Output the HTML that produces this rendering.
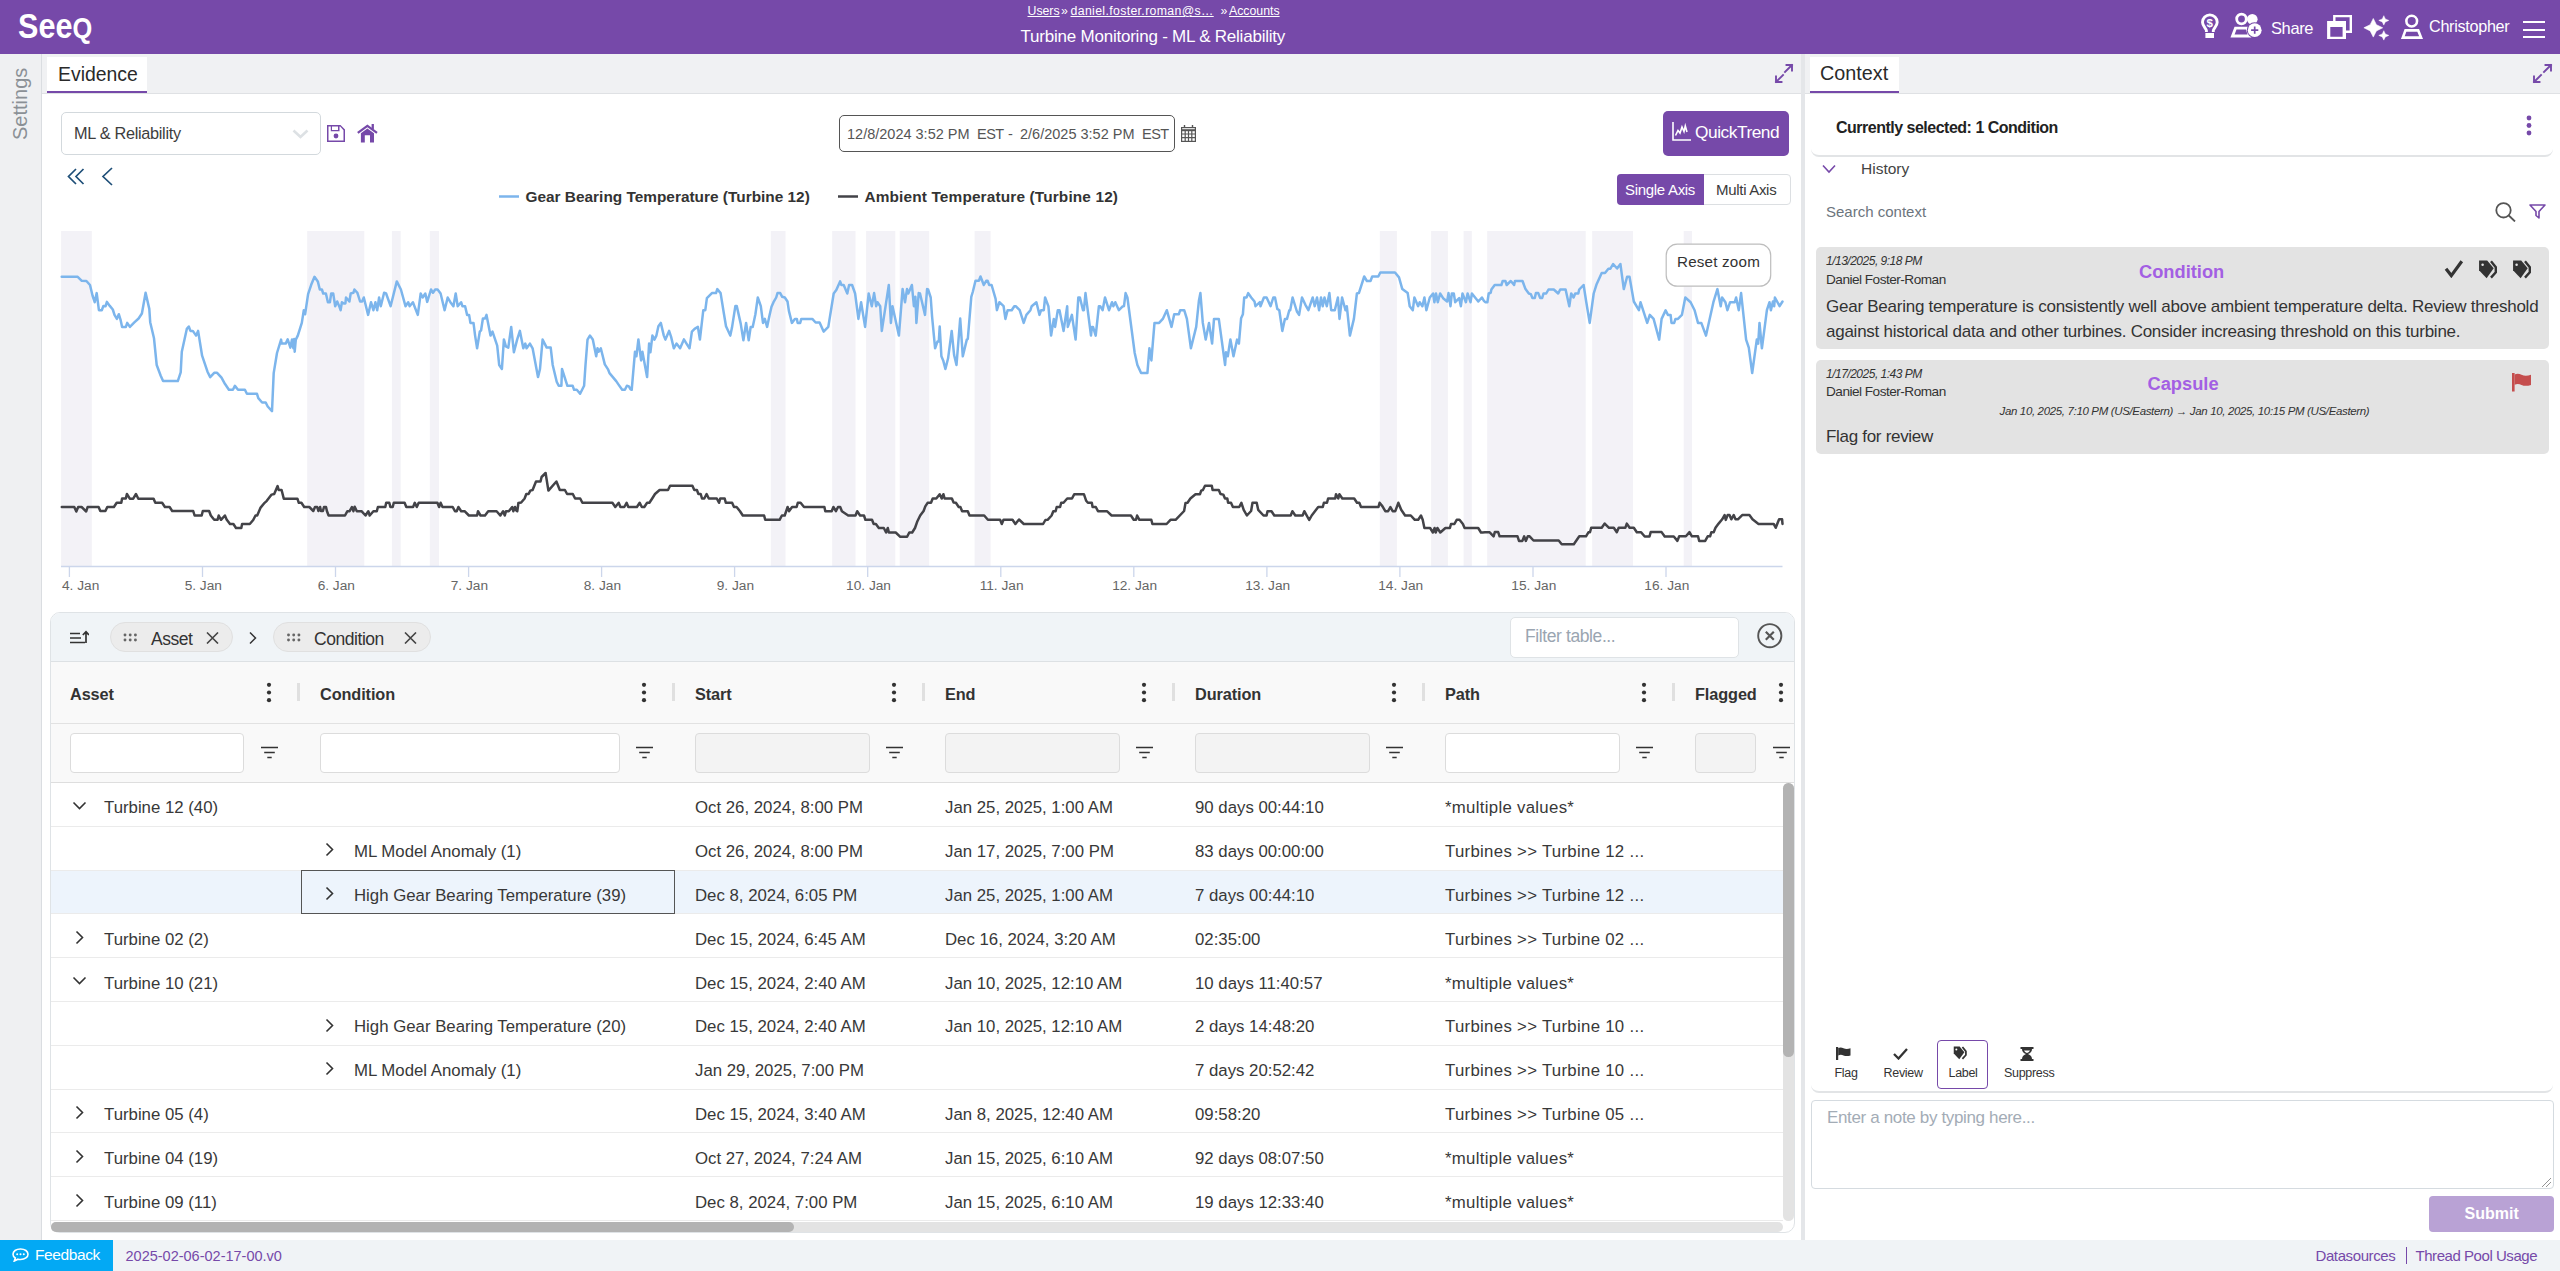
<!DOCTYPE html>
<html><head><meta charset="utf-8"><title>Seeq</title>
<style>
*{box-sizing:border-box;margin:0;padding:0}
html,body{width:2560px;height:1271px;overflow:hidden;background:#fff;font-family:"Liberation Sans",Arial,sans-serif;color:#333}
.a{position:absolute}
.t{position:absolute;white-space:nowrap;line-height:1}
#hdr{left:0;top:0;width:2560px;height:54px;background:#7649a9}
#side{left:0;top:54px;width:42px;height:1186px;background:#eff0f2;border-right:1px solid #dadde1}
#evtab{left:42px;top:54px;width:1759px;height:40px;background:#f0f1f3;border-bottom:1px solid #dfe1e4}
#ctxtab{left:1805px;top:54px;width:755px;height:40px;background:#f0f1f3;border-bottom:1px solid #dfe1e4}
#divider{left:1801px;top:54px;width:4px;height:1186px;background:#e4e6e9}
#footer{left:0;top:1240px;width:2560px;height:31px;background:#f0f3f6}
.tab{background:#fff;border-bottom:2.5px solid #7649a9}
.pu{color:#7649a9}
</style></head><body>
<div id="hdr" class="a"></div>
<div id="side" class="a"></div>
<div id="evtab" class="a"></div>
<div id="ctxtab" class="a"></div>
<div id="divider" class="a"></div>
<div id="footer" class="a"></div>

<!-- HEADER -->
<div class="t" style="left:18px;top:8.5px;font-size:35.5px;font-weight:bold;color:#fff;letter-spacing:0.1px;transform:scaleX(0.86);transform-origin:0 0">See<span style="font-size:29.5px;letter-spacing:0">Q</span></div>
<div class="t" style="left:1027.5px;top:5px;font-size:12.3px;color:#fff;text-decoration:underline">Users</div>
<div class="t" style="left:1061px;top:5px;font-size:12.3px;color:#fff">»</div>
<div class="t" style="left:1070.5px;top:5px;font-size:12.3px;color:#fff;text-decoration:underline;letter-spacing:0.35px">daniel.foster.roman@s…</div>
<div class="t" style="left:1220.5px;top:5px;font-size:12.3px;color:#fff">»</div>
<div class="t" style="left:1229px;top:5px;font-size:12.3px;color:#fff;text-decoration:underline">Accounts</div>
<div class="t" style="left:1020.5px;top:28px;font-size:17px;color:#fff;letter-spacing:-0.22px">Turbine Monitoring - ML &amp; Reliability</div>
<svg class="a" style="left:2195px;top:8px" width="72" height="34" viewBox="0 0 72 34">
 <path d="M11.4 24 V22.6 C11.4 20.6 7.5 18.2 7.5 14.2 A7.35 7.35 0 0 1 22.2 14.2 C22.2 18.2 18.3 20.6 18.3 22.6 V24" fill="none" stroke="#fff" stroke-width="2.9"/>
 <rect x="10.4" y="25" width="8.6" height="5" fill="#fff"/>
 <text x="14.8" y="19.2" font-size="11.5" font-weight="bold" fill="#fff" text-anchor="middle" font-family="Liberation Sans, sans-serif">$</text>
 <circle cx="46.5" cy="11" r="4.8" fill="none" stroke="#fff" stroke-width="2.8"/>
 <circle cx="57.3" cy="11.2" r="5.3" fill="#fff"/>
 <path d="M37.5 28 L40.5 20.2 L52 20.2 L54.5 28 Z" fill="none" stroke="#fff" stroke-width="2.8" stroke-linejoin="miter"/>
 <circle cx="59.7" cy="22.2" r="7.9" fill="#7649a9"/>
 <circle cx="59.7" cy="22.2" r="6.9" fill="#fff"/>
 <path d="M59.7 18.6 V25.8 M56.1 22.2 H63.3" stroke="#7649a9" stroke-width="1.7"/>
</svg>
<div class="t" style="left:2271px;top:20px;font-size:16.5px;color:#fff;letter-spacing:-0.4px">Share</div>
<svg class="a" style="left:2320px;top:8px" width="110" height="37" viewBox="0 0 110 37">
 <path d="M14.3 13.1 V8.1 H30.8 V23.7 H26" fill="none" stroke="#fff" stroke-width="2.4"/>
 <path d="M7.1 13.1 H26 V30.9 H7.1 Z M10.3 19.1 V28.7 H22.6 V19.1 Z" fill="#fff" fill-rule="evenodd"/>
 <path d="M53.3 10.5 L56.4 16.7 L62.699999999999996 19.8 L56.4 22.900000000000002 L53.3 29.1 L50.199999999999996 22.900000000000002 L43.9 19.8 L50.199999999999996 16.7 Z" fill="#fff" stroke="#fff" stroke-width="0.6" stroke-linejoin="round"/>
 <path d="M63.8 7.7 L65.3 10.9 L68.8 12.4 L65.3 13.9 L63.8 17.1 L62.3 13.9 L58.8 12.4 L62.3 10.9 Z" fill="#fff" stroke="#fff" stroke-width="0.5" stroke-linejoin="round"/>
 <path d="M63.8 22.7 L65.3 25.9 L68.8 27.4 L65.3 28.9 L63.8 32.1 L62.3 28.9 L58.8 27.4 L62.3 25.9 Z" fill="#fff" stroke="#fff" stroke-width="0.5" stroke-linejoin="round"/>
 <circle cx="91.7" cy="13.1" r="5.35" fill="none" stroke="#fff" stroke-width="2.6"/>
 <path d="M82.8 29.6 L85.5 22.4 H98.2 L101.1 29.6 Z" fill="none" stroke="#fff" stroke-width="2.6" stroke-linejoin="miter"/>
</svg>
<div class="t" style="left:2429px;top:18px;font-size:16.2px;color:#fff;letter-spacing:-0.3px">Christopher</div>
<div class="a" style="left:2523px;top:21px;width:22px;height:2.4px;background:#fff"></div>
<div class="a" style="left:2523px;top:28.5px;width:22px;height:2.4px;background:#fff"></div>
<div class="a" style="left:2523px;top:35.8px;width:22px;height:2.4px;background:#fff"></div>

<!-- EVIDENCE TOOLBAR -->
<svg class="a" style="left:1774px;top:63px" width="20" height="21" viewBox="0 0 20 21" fill="none" stroke="#7649a9" stroke-width="1.9" stroke-linecap="square">
 <path d="M11 9 L18 2 M12.5 2 H18 V7.5"/>
 <path d="M9 12 L2 19 M2 13.5 V19 H7.5"/>
</svg>
<div class="a" style="left:61px;top:112px;width:260px;height:43px;border:1px solid #d3d9dd;border-radius:5px;background:#fff"></div>
<div class="t" style="left:74px;top:125px;font-size:16.3px;color:#3d3d3d;letter-spacing:-0.3px">ML &amp; Reliability</div>
<svg class="a" style="left:292px;top:129px" width="17" height="10" viewBox="0 0 17 10" fill="none" stroke="#dde1e4" stroke-width="2.6"><path d="M1.5 1.5 L8.5 8 L15.5 1.5"/></svg>
<svg class="a" style="left:327px;top:125px" width="18" height="17" viewBox="0 0 18 17" fill="#7649a9">
 <path d="M0 0 H13.5 L18 4.5 V17 H0 Z M1.5 1.5 V15.5 H16.5 V5.2 L13.2 1.5 H12.5 V6.3 H3.8 V1.5 Z M5 1.5 V4.9 H11 V1.5 Z" fill-rule="evenodd"/>
 <circle cx="9" cy="11" r="2.4"/>
</svg>
<svg class="a" style="left:357px;top:124px" width="22" height="20" viewBox="0 0 22 20" fill="#7649a9">
 <path d="M0.8 8.9 L10.4 1.9 L20 8.9" fill="none" stroke="#7649a9" stroke-width="2.3"/>
 <rect x="14.6" y="0" width="2.3" height="5.2"/>
 <path d="M3.9 9.3 L10.4 4.6 L17 9.3 V18.4 H13 V11.2 H7.8 V18.4 H3.9 Z"/>
</svg>
<div class="a" style="left:839px;top:115px;width:336px;height:37px;border:1.3px solid #555;border-radius:5px"></div>
<div class="t" style="left:847px;top:127px;font-size:14.5px;color:#555">12/8/2024 3:52 PM</div>
<div class="t" style="left:977px;top:127px;font-size:14.5px;color:#555;letter-spacing:-0.5px">EST</div>
<div class="t" style="left:1008px;top:127px;font-size:14.5px;color:#555">-</div>
<div class="t" style="left:1020px;top:127px;font-size:14.5px;color:#555">2/6/2025 3:52 PM</div>
<div class="t" style="left:1142px;top:127px;font-size:14.5px;color:#555;letter-spacing:-0.5px">EST</div>
<svg class="a" style="left:1181px;top:125px" width="15" height="17" viewBox="0 0 15 17" fill="none" stroke="#555" stroke-width="1.2">
 <rect x="0.6" y="2.6" width="13.8" height="13.8"/>
 <path d="M0.6 5.2 H14.4" stroke-width="2"/>
 <path d="M0.6 9 H14.4 M0.6 12.6 H14.4 M4.2 5 V16.4 M7.5 5 V16.4 M10.8 5 V16.4"/>
 <path d="M3.5 0 V3 M11.5 0 V3" stroke-width="1.4"/>
</svg>
<div class="a" style="left:1663px;top:111px;width:126px;height:45px;background:#7649a9;border-radius:5px"></div>
<svg class="a" style="left:1672px;top:122px" width="20" height="19" viewBox="0 0 20 19" fill="none" stroke="#fff" stroke-width="1.6">
 <path d="M1 0 V18 H19"/>
 <path d="M3.5 13.5 L6 8.5 L8 11 L10 5 L12 9.5 L13.3 4 L15 10"/>
</svg>
<div class="t" style="left:1695px;top:124px;font-size:17.3px;color:#fff;letter-spacing:-0.45px">QuickTrend</div>
<svg class="a" style="left:67px;top:168px" width="18" height="17" viewBox="0 0 18 17" fill="none" stroke="#1f4f78" stroke-width="1.7"><path d="M9 1 L1.5 8.5 L9 16 M16.5 1 L9 8.5 L16.5 16"/></svg>
<svg class="a" style="left:101px;top:167px" width="12" height="19" viewBox="0 0 12 19" fill="none" stroke="#1f4f78" stroke-width="1.7"><path d="M11 1 L2 9.5 L11 18"/></svg>
<div class="a" style="left:1617px;top:174px;width:174px;height:31px;border:1px solid #dcdfe2;border-radius:4px;background:#fff"></div>
<div class="a" style="left:1617px;top:174px;width:87px;height:31px;background:#7649a9;border-radius:4px 0 0 4px"></div>
<div class="t" style="left:1625px;top:182px;font-size:15px;color:#fff;letter-spacing:-0.3px">Single Axis</div>
<div class="t" style="left:1716px;top:182px;font-size:15px;color:#3a3a3a;letter-spacing:-0.3px">Multi Axis</div>
<!-- CHART -->
<svg class="a" style="left:0;top:0" width="1800" height="600" viewBox="0 0 1800 600">
<rect x="61.1" y="231" width="30.7" height="335" fill="#f3f2f7"/>
<rect x="307.2" y="231" width="57.1" height="335" fill="#f3f2f7"/>
<rect x="391.9" y="231" width="8.8" height="335" fill="#f3f2f7"/>
<rect x="429.8" y="231" width="9.2" height="335" fill="#f3f2f7"/>
<rect x="770.8" y="231" width="14.7" height="335" fill="#f3f2f7"/>
<rect x="832.2" y="231" width="23.3" height="335" fill="#f3f2f7"/>
<rect x="866.1" y="231" width="29.2" height="335" fill="#f3f2f7"/>
<rect x="899.7" y="231" width="29.5" height="335" fill="#f3f2f7"/>
<rect x="974.6" y="231" width="16.0" height="335" fill="#f3f2f7"/>
<rect x="1379.8" y="231" width="17.1" height="335" fill="#f3f2f7"/>
<rect x="1431.1" y="231" width="16.8" height="335" fill="#f3f2f7"/>
<rect x="1463.6" y="231" width="8.2" height="335" fill="#f3f2f7"/>
<rect x="1487.2" y="231" width="98.5" height="335" fill="#f3f2f7"/>
<rect x="1592.2" y="231" width="40.8" height="335" fill="#f3f2f7"/>
<rect x="1683.7" y="231" width="8.3" height="335" fill="#f3f2f7"/>
<path d="M61 566.5 H1782.5" stroke="#ccd6eb" stroke-width="1.3"/>
<path d="M69.4 566 V577" stroke="#ccd6eb" stroke-width="1.3"/>
<path d="M202.5 566 V577" stroke="#ccd6eb" stroke-width="1.3"/>
<path d="M335.5 566 V577" stroke="#ccd6eb" stroke-width="1.3"/>
<path d="M468.6 566 V577" stroke="#ccd6eb" stroke-width="1.3"/>
<path d="M601.6 566 V577" stroke="#ccd6eb" stroke-width="1.3"/>
<path d="M734.6 566 V577" stroke="#ccd6eb" stroke-width="1.3"/>
<path d="M867.7 566 V577" stroke="#ccd6eb" stroke-width="1.3"/>
<path d="M1000.8 566 V577" stroke="#ccd6eb" stroke-width="1.3"/>
<path d="M1133.8 566 V577" stroke="#ccd6eb" stroke-width="1.3"/>
<path d="M1266.9 566 V577" stroke="#ccd6eb" stroke-width="1.3"/>
<path d="M1399.9 566 V577" stroke="#ccd6eb" stroke-width="1.3"/>
<path d="M1533.0 566 V577" stroke="#ccd6eb" stroke-width="1.3"/>
<path d="M1666.0 566 V577" stroke="#ccd6eb" stroke-width="1.3"/>
<g font-family="Liberation Sans, Arial, sans-serif"><text x="62" y="590" font-size="13.7" fill="#666">4. Jan</text><text x="203.3" y="590" font-size="13.7" fill="#666" text-anchor="middle">5. Jan</text><text x="336.3" y="590" font-size="13.7" fill="#666" text-anchor="middle">6. Jan</text><text x="469.4" y="590" font-size="13.7" fill="#666" text-anchor="middle">7. Jan</text><text x="602.4" y="590" font-size="13.7" fill="#666" text-anchor="middle">8. Jan</text><text x="735.4" y="590" font-size="13.7" fill="#666" text-anchor="middle">9. Jan</text><text x="868.5" y="590" font-size="13.7" fill="#666" text-anchor="middle">10. Jan</text><text x="1001.6" y="590" font-size="13.7" fill="#666" text-anchor="middle">11. Jan</text><text x="1134.6" y="590" font-size="13.7" fill="#666" text-anchor="middle">12. Jan</text><text x="1267.7" y="590" font-size="13.7" fill="#666" text-anchor="middle">13. Jan</text><text x="1400.7" y="590" font-size="13.7" fill="#666" text-anchor="middle">14. Jan</text><text x="1533.8" y="590" font-size="13.7" fill="#666" text-anchor="middle">15. Jan</text><text x="1666.8" y="590" font-size="13.7" fill="#666" text-anchor="middle">16. Jan</text></g>
<path d="M61.8 507.0 L74.3 507.0 L76.3 511.5 L78.2 507.0 L81.6 507.0 L86.2 511.5 L87.6 507.0 L98.6 507.0 L100.3 511.0 L105.4 511.0 L107.3 507.0 L113.9 507.0 L116.7 502.8 L121.3 502.8 L122.1 498.5 L125.8 498.5 L126.9 494.0 L129.8 498.7 L133.2 498.7 L136.0 494.0 L138.3 498.7 L153.6 498.7 L155.3 502.8 L162.1 502.8 L164.9 507.0 L169.6 507.0 L172.2 511.0 L193.2 511.0 L194.6 515.5 L201.7 515.5 L202.8 511.0 L209.1 511.0 L210.8 515.5 L214.2 519.8 L217.6 519.8 L218.7 515.5 L221.0 519.8 L224.9 515.5 L226.6 519.5 L230.0 524.0 L233.4 524.0 L236.0 528.0 L241.3 528.0 L242.1 524.0 L249.8 524.0 L253.2 520.0 L255.5 515.5 L257.2 515.5 L260.6 507.6 L264.6 502.8 L266.8 500.8 L271.6 494.6 L274.2 494.0 L277.6 486.1 L278.7 490.0 L281.6 490.0 L283.8 498.7 L297.4 498.7 L298.8 502.8 L301.4 502.8 L304.2 507.0 L309.3 507.0 L313.3 511.0 L315.0 507.0 L317.2 507.0 L318.4 511.0 L320.1 507.0 L321.0 511.0 L322.9 511.0 L324.0 507.0 L326.0 507.0 L326.9 511.0 L328.6 515.5 L340.5 515.5 L345.0 515.5 L347.4 511.2 L349.6 511.2 L351.9 507.0 L353.4 511.2 L354.7 506.7 L356.8 511.2 L361.5 511.2 L365.5 515.5 L368.3 511.2 L369.7 515.5 L373.4 511.2 L376.8 511.2 L377.9 507.0 L385.3 507.0 L386.2 502.8 L389.3 502.8 L390.4 507.0 L392.7 507.0 L393.8 502.8 L404.6 502.8 L406.3 507.0 L413.1 507.0 L414.8 502.8 L416.8 507.0 L418.7 502.8 L437.4 502.8 L439.1 507.0 L440.6 502.8 L442.5 507.0 L452.7 507.0 L455.0 511.2 L456.7 511.2 L458.4 507.0 L461.2 511.2 L464.6 511.2 L468.9 515.5 L477.1 515.5 L478.0 511.2 L480.5 515.5 L485.0 515.5 L488.2 511.2 L496.6 511.2 L500.3 515.5 L503.1 511.2 L504.8 515.5 L506.0 511.2 L508.8 511.2 L512.2 507.0 L513.3 511.2 L515.0 507.0 L516.2 510.4 L517.3 511.2 L518.4 503.0 L521.2 502.5 L524.6 498.5 L526.3 494.0 L528.6 494.0 L530.3 490.6 L532.6 490.0 L536.0 481.5 L540.5 481.5 L541.6 477.0 L545.6 473.0 L548.4 490.6 L556.4 481.5 L559.8 490.0 L564.9 490.0 L567.1 494.0 L572.8 494.0 L575.1 498.5 L580.2 498.5 L582.4 502.8 L612.4 502.8 L615.3 507.0 L618.7 502.8 L620.4 507.0 L624.3 507.0 L626.6 502.8 L628.3 507.0 L630.0 507.0 L636.9 507.0 L639.7 502.8 L641.8 507.0 L644.3 507.0 L647.1 502.8 L649.4 502.8 L652.2 498.5 L655.0 494.0 L659.6 490.0 L668.0 490.0 L670.1 485.8 L692.4 485.8 L694.3 490.0 L696.9 490.0 L698.4 494.0 L700.7 494.0 L702.0 498.5 L704.3 498.5 L706.6 494.0 L708.8 498.5 L716.8 498.5 L719.0 502.8 L720.2 498.5 L724.7 498.5 L725.8 502.8 L732.1 502.8 L734.0 507.0 L736.6 507.0 L740.0 511.2 L742.8 515.5 L764.1 515.5 L765.2 519.8 L779.6 519.8 L781.9 515.5 L784.7 515.5 L787.6 507.0 L789.0 511.2 L792.1 507.0 L796.6 507.0 L797.8 502.8 L800.6 502.8 L804.0 507.0 L824.4 507.0 L825.3 511.2 L831.7 511.2 L833.4 507.0 L835.9 511.2 L838.0 507.0 L840.2 507.0 L841.9 511.2 L848.2 515.5 L855.5 515.5 L857.2 511.2 L860.1 515.5 L864.0 515.5 L865.4 519.8 L872.0 519.8 L873.7 524.0 L875.9 524.0 L878.8 528.0 L883.8 528.0 L886.1 532.5 L887.8 528.0 L888.9 532.5 L895.7 532.5 L900.3 536.8 L907.1 536.8 L909.3 532.5 L912.2 532.5 L915.0 528.0 L917.4 521.2 L920.2 515.5 L923.6 511.0 L925.3 506.4 L927.6 502.8 L931.0 502.8 L932.7 498.5 L936.3 498.5 L939.7 494.2 L941.7 498.5 L943.4 494.2 L944.6 498.5 L951.9 498.5 L953.6 502.5 L955.9 502.8 L958.7 507.0 L960.4 507.0 L962.1 511.2 L967.8 511.2 L969.5 515.5 L984.2 515.5 L987.9 519.8 L1000.1 519.8 L1001.8 524.0 L1003.5 519.8 L1012.5 519.8 L1015.4 524.0 L1019.0 519.5 L1023.8 524.0 L1043.1 524.0 L1045.4 520.0 L1047.6 519.8 L1051.6 515.5 L1053.3 511.2 L1055.6 511.2 L1056.7 507.0 L1060.1 507.0 L1061.2 502.8 L1063.5 502.8 L1067.2 498.5 L1072.0 498.5 L1074.3 494.2 L1083.9 494.2 L1086.2 500.8 L1087.9 502.8 L1091.8 502.8 L1092.6 507.0 L1095.8 507.0 L1098.0 511.2 L1106.9 511.2 L1111.6 515.5 L1130.9 515.5 L1133.7 519.8 L1136.0 519.8 L1137.1 515.5 L1139.4 519.8 L1151.3 519.8 L1152.4 524.0 L1166.6 524.0 L1170.5 519.8 L1175.6 519.8 L1184.1 511.0 L1185.5 503.0 L1187.5 502.8 L1190.4 498.5 L1195.5 494.2 L1200.0 494.2 L1201.2 490.6 L1202.9 490.0 L1205.0 485.8 L1211.8 485.8 L1212.6 490.0 L1218.8 490.0 L1220.5 494.0 L1223.3 494.6 L1225.0 498.5 L1227.3 498.5 L1228.1 502.8 L1231.0 502.8 L1232.9 507.0 L1239.2 507.0 L1241.4 502.8 L1243.7 509.8 L1246.9 515.5 L1251.1 511.0 L1252.5 502.8 L1256.7 502.8 L1258.2 509.8 L1263.5 515.5 L1266.6 515.5 L1267.5 511.2 L1271.5 511.2 L1274.3 515.5 L1290.7 515.5 L1292.4 511.2 L1295.3 515.5 L1302.6 515.5 L1304.3 511.2 L1309.2 520.0 L1311.7 515.5 L1318.2 507.0 L1322.8 507.0 L1323.9 502.8 L1327.0 502.8 L1328.1 498.5 L1335.2 498.5 L1336.0 494.2 L1338.3 498.5 L1339.4 494.2 L1342.3 498.5 L1354.2 498.5 L1357.0 502.8 L1359.3 502.8 L1361.0 507.0 L1378.5 507.0 L1379.6 502.8 L1382.5 506.4 L1385.3 511.2 L1388.1 511.2 L1390.4 507.0 L1392.7 511.2 L1395.3 511.2 L1398.3 502.8 L1401.2 509.8 L1405.1 515.5 L1410.8 515.5 L1414.8 519.8 L1418.2 519.8 L1421.0 515.5 L1422.7 519.8 L1424.4 528.0 L1430.1 528.0 L1432.9 532.5 L1434.6 528.0 L1435.7 532.5 L1437.4 528.0 L1440.3 532.5 L1445.4 528.0 L1449.9 528.0 L1451.0 524.0 L1454.4 524.0 L1456.7 519.8 L1459.5 519.8 L1462.9 524.0 L1464.6 528.0 L1478.2 528.0 L1481.0 532.5 L1482.7 532.5 L1485.0 532.3 L1489.7 532.3 L1493.6 536.3 L1494.8 532.1 L1498.2 532.1 L1499.6 536.3 L1517.5 536.3 L1519.0 540.9 L1522.4 540.9 L1524.2 536.3 L1525.8 540.9 L1527.8 536.3 L1529.6 536.3 L1533.5 540.5 L1558.7 540.5 L1561.7 544.2 L1573.8 544.2 L1579.3 536.3 L1586.0 536.3 L1588.4 532.3 L1590.0 532.3 L1591.2 527.8 L1601.7 527.8 L1604.7 523.6 L1609.0 527.8 L1613.8 527.8 L1616.8 532.3 L1618.7 527.8 L1625.3 527.8 L1626.8 523.6 L1629.6 527.8 L1633.8 527.8 L1636.8 532.3 L1641.1 532.3 L1644.7 536.5 L1649.5 536.5 L1650.7 532.1 L1661.6 532.1 L1664.7 536.5 L1673.8 536.5 L1677.4 540.9 L1679.2 536.3 L1685.9 536.3 L1689.5 532.1 L1691.9 536.3 L1698.0 536.3 L1699.2 540.9 L1705.2 540.9 L1707.7 536.3 L1710.1 536.3 L1711.3 532.3 L1713.7 532.3 L1715.5 527.8 L1718.6 523.6 L1722.2 519.3 L1724.6 515.1 L1725.8 519.9 L1727.6 515.1 L1729.5 515.1 L1731.3 519.3 L1733.7 515.1 L1735.5 519.3 L1737.9 519.3 L1742.2 515.1 L1749.4 515.1 L1752.5 519.3 L1758.5 523.9 L1773.7 523.9 L1775.7 527.8 L1779.1 519.3 L1782.1 519.3 L1782.5 523.9" fill="none" stroke="#434348" stroke-width="2.5" stroke-linejoin="round" stroke-linecap="round"/>
<path d="M61.7 276.8 L77.7 276.8 L81.8 280.8 L86.4 281.0 L90.0 285.0 L92.5 295.5 L94.7 302.2 L96.7 293.1 L98.9 310.2 L101.8 310.2 L103.4 305.9 L105.6 306.2 L106.9 301.9 L109.8 305.9 L112.8 309.5 L114.5 314.9 L116.9 318.9 L118.8 314.2 L120.5 319.6 L122.1 326.9 L125.9 326.9 L127.2 322.9 L129.9 326.9 L134.6 322.2 L138.6 318.5 L141.9 313.5 L145.6 292.8 L149.3 308.9 L150.2 322.2 L154.0 338.3 L156.7 365.0 L160.7 375.7 L163.1 381.1 L177.8 381.1 L180.7 372.4 L181.8 351.7 L186.8 328.9 L188.8 326.5 L190.4 330.9 L192.8 330.9 L196.1 335.6 L198.1 330.9 L202.1 355.7 L207.5 371.7 L210.2 377.1 L214.2 372.8 L217.1 372.8 L221.5 377.7 L224.9 383.8 L228.9 389.8 L232.9 389.8 L234.9 385.8 L238.0 389.8 L244.9 389.8 L246.9 393.8 L257.0 393.8 L258.3 398.2 L262.1 402.5 L265.7 402.5 L267.7 406.5 L272.0 411.2 L273.7 373.1 L277.0 353.0 L281.1 339.6 L281.7 343.6 L285.7 343.6 L287.7 339.4 L290.4 347.6 L292.0 339.4 L293.4 348.3 L294.2 339.0 L294.7 351.7 L295.8 339.6 L297.8 335.6 L301.8 322.9 L303.8 310.2 L305.1 314.2 L308.1 294.1 L311.2 284.8 L314.5 276.8 L317.8 281.4 L319.8 289.5 L321.9 289.5 L323.2 293.5 L325.9 293.5 L327.9 302.2 L329.9 302.2 L331.2 293.5 L333.2 293.5 L335.2 306.2 L337.2 301.5 L339.2 306.2 L340.6 310.2 L341.9 302.2 L343.9 303.5 L345.4 303.5 L346.0 297.5 L349.4 301.5 L350.7 293.5 L353.4 292.8 L354.4 289.5 L357.4 292.8 L360.1 301.5 L362.1 301.5 L363.8 297.5 L368.1 314.9 L371.0 302.2 L373.4 310.2 L375.4 302.2 L377.2 310.2 L379.1 297.5 L380.8 306.2 L384.1 292.8 L386.1 293.5 L390.6 306.2 L396.8 281.4 L400.9 289.5 L405.5 306.2 L408.2 302.2 L409.6 306.2 L412.9 302.2 L417.8 314.9 L420.7 293.5 L422.7 297.5 L425.3 293.5 L427.2 301.9 L431.0 289.5 L433.0 292.8 L435.2 289.5 L437.6 289.5 L440.6 293.5 L444.6 310.2 L447.7 297.5 L450.4 302.2 L453.4 306.2 L455.7 293.5 L457.7 306.2 L461.1 302.2 L462.4 306.2 L465.1 306.2 L467.1 314.9 L469.1 314.9 L470.4 322.9 L473.5 322.9 L475.1 335.6 L477.1 348.3 L479.8 331.6 L481.1 330.3 L482.9 318.5 L485.1 318.5 L486.5 314.9 L490.5 335.6 L492.5 331.6 L497.2 345.6 L499.2 365.0 L501.9 369.0 L503.9 339.4 L505.9 346.3 L508.3 347.6 L511.2 326.9 L513.9 352.3 L517.2 339.4 L519.9 330.9 L523.3 348.3 L525.3 343.6 L526.6 348.3 L529.9 343.6 L532.6 348.3 L538.0 377.1 L540.0 369.0 L542.6 339.6 L546.7 347.6 L550.7 347.6 L552.7 365.0 L556.7 381.8 L558.7 385.8 L561.4 385.8 L562.0 369.0 L567.4 385.8 L572.7 385.8 L574.1 389.8 L576.8 389.8 L580.1 393.8 L584.1 385.8 L585.5 365.0 L587.5 339.6 L589.9 335.6 L592.8 339.6 L596.2 356.3 L597.5 348.3 L598.8 351.7 L600.8 348.3 L604.8 364.4 L608.2 369.7 L609.5 373.1 L616.2 381.1 L618.9 385.1 L622.2 389.8 L624.9 389.8 L626.9 385.8 L628.9 386.4 L630.4 389.1 L631.7 389.8 L635.0 351.7 L636.4 356.3 L638.4 339.4 L641.1 360.4 L642.4 351.7 L647.1 377.1 L649.1 343.6 L650.4 352.3 L652.4 335.6 L654.4 339.6 L656.4 335.6 L658.4 326.2 L660.8 322.9 L663.8 335.6 L665.4 339.6 L669.1 330.9 L671.1 336.9 L673.8 348.3 L676.5 343.6 L680.1 348.3 L683.9 339.4 L686.5 343.6 L689.5 348.3 L691.9 331.6 L694.6 328.9 L697.9 326.9 L699.9 339.6 L703.3 310.2 L705.3 310.2 L706.9 298.2 L711.9 293.1 L716.0 293.1 L717.3 289.1 L720.6 293.1 L724.0 314.2 L726.0 326.2 L730.3 335.6 L732.0 327.6 L735.4 305.9 L736.7 305.9 L740.7 323.6 L743.4 340.3 L746.1 322.9 L748.7 340.3 L750.7 326.9 L752.7 326.9 L755.4 314.2 L757.8 297.5 L760.8 306.2 L763.0 322.9 L764.8 318.9 L767.1 326.9 L769.5 315.5 L771.5 306.8 L773.5 302.2 L776.2 297.5 L777.5 293.1 L780.2 293.1 L782.2 296.8 L784.8 297.5 L787.5 301.5 L788.9 310.9 L791.9 322.9 L794.9 318.9 L796.9 318.9 L797.6 322.9 L800.2 322.9 L801.3 318.9 L812.3 318.9 L815.6 322.5 L819.6 322.5 L823.6 331.6 L828.3 326.9 L833.7 293.5 L836.3 290.1 L840.1 281.4 L841.4 285.0 L843.7 285.0 L847.3 293.5 L849.1 285.0 L852.1 285.0 L855.1 293.5 L858.4 318.9 L861.1 302.2 L865.1 326.9 L868.7 293.5 L871.8 306.2 L874.1 293.1 L876.2 306.2 L877.5 302.2 L880.2 306.2 L881.8 330.9 L888.8 285.0 L890.9 322.9 L892.5 306.2 L898.9 335.6 L902.6 289.1 L905.0 302.2 L907.0 289.1 L908.3 293.5 L911.9 285.0 L913.9 306.2 L915.4 296.8 L916.4 322.9 L918.7 293.1 L920.0 293.5 L925.0 314.9 L927.1 289.1 L928.1 289.5 L930.7 297.5 L932.1 316.9 L935.1 348.3 L937.4 341.6 L938.8 341.6 L939.7 326.5 L941.4 356.3 L943.2 360.4 L945.4 369.0 L948.1 358.3 L951.7 330.9 L954.1 355.0 L956.5 365.0 L960.2 318.5 L962.8 356.3 L966.8 339.6 L967.8 339.0 L971.3 296.8 L972.9 291.5 L975.5 280.8 L978.9 280.8 L980.5 276.5 L983.8 285.0 L986.2 280.8 L987.6 280.8 L989.2 285.0 L991.6 285.0 L995.6 298.8 L996.9 310.2 L999.4 302.2 L1003.6 306.2 L1005.4 318.9 L1007.6 310.2 L1011.7 310.2 L1014.3 306.2 L1015.7 306.2 L1019.7 310.2 L1023.7 322.9 L1026.4 314.9 L1030.4 310.2 L1031.7 306.2 L1036.4 302.2 L1039.5 314.9 L1041.1 310.2 L1043.8 310.2 L1045.1 297.5 L1048.4 306.2 L1051.1 335.6 L1053.8 318.9 L1055.1 326.9 L1057.8 310.2 L1059.5 310.2 L1063.6 330.9 L1067.2 306.2 L1067.8 326.9 L1071.9 314.9 L1075.6 339.6 L1078.3 297.5 L1079.9 297.5 L1083.0 310.2 L1083.9 310.2 L1085.5 293.1 L1087.2 306.2 L1091.0 335.6 L1091.9 326.9 L1093.0 326.9 L1095.7 335.6 L1098.9 306.2 L1100.2 306.2 L1102.6 310.2 L1105.0 297.5 L1109.0 310.2 L1112.0 302.2 L1113.3 306.2 L1115.3 302.2 L1118.9 310.2 L1122.9 306.2 L1124.0 306.2 L1125.6 293.1 L1127.4 297.5 L1134.7 353.0 L1137.4 365.0 L1141.1 373.1 L1147.4 373.1 L1149.4 348.3 L1151.4 360.4 L1154.5 322.9 L1159.1 322.9 L1162.8 318.9 L1166.8 310.2 L1171.5 326.9 L1174.2 314.2 L1178.9 314.2 L1180.2 310.2 L1184.2 310.2 L1186.9 318.9 L1190.9 348.3 L1196.2 326.9 L1198.9 300.8 L1200.4 293.1 L1202.8 322.9 L1205.7 339.6 L1209.0 322.9 L1212.1 343.6 L1214.0 318.9 L1218.8 318.9 L1225.1 365.0 L1226.0 352.3 L1227.8 356.3 L1230.4 339.4 L1233.5 356.3 L1237.1 339.6 L1238.9 343.6 L1241.1 318.2 L1242.9 314.2 L1244.2 297.5 L1246.5 297.5 L1248.2 293.1 L1251.2 297.5 L1254.5 301.5 L1255.5 306.2 L1259.9 302.2 L1260.5 306.2 L1263.9 297.5 L1266.6 297.5 L1270.6 306.2 L1273.3 297.5 L1275.0 297.5 L1277.3 308.9 L1279.3 310.2 L1282.3 330.9 L1284.9 318.9 L1287.0 318.9 L1289.3 310.2 L1290.2 310.2 L1292.6 297.5 L1296.9 311.5 L1299.1 314.9 L1302.0 297.5 L1305.4 304.8 L1308.4 310.2 L1312.7 297.5 L1314.7 306.2 L1317.0 297.5 L1319.1 310.2 L1321.0 297.5 L1322.7 306.2 L1324.5 297.5 L1326.8 306.2 L1329.4 293.1 L1331.2 310.2 L1334.8 310.2 L1337.9 297.5 L1339.5 318.9 L1342.1 297.5 L1345.5 310.2 L1346.8 306.2 L1349.9 335.6 L1353.9 318.9 L1356.9 293.5 L1358.9 293.1 L1364.2 276.5 L1366.9 281.0 L1370.5 281.0 L1372.2 276.5 L1378.3 276.5 L1380.3 272.5 L1395.0 272.5 L1399.0 277.4 L1402.3 289.1 L1407.7 293.1 L1409.7 306.2 L1412.8 310.2 L1414.4 297.5 L1418.1 306.2 L1419.7 302.2 L1422.4 306.2 L1424.4 297.5 L1426.4 310.2 L1429.8 297.5 L1433.1 293.5 L1434.4 302.2 L1436.0 293.5 L1437.8 302.2 L1440.1 293.5 L1443.1 298.2 L1447.1 301.5 L1448.5 293.1 L1450.5 306.2 L1451.8 293.5 L1453.8 293.5 L1455.2 302.2 L1459.2 298.2 L1460.9 306.2 L1462.5 293.5 L1465.9 302.2 L1467.6 293.5 L1470.5 302.2 L1471.9 293.5 L1478.3 301.5 L1481.9 297.5 L1483.9 300.8 L1485.3 302.2 L1487.4 302.2 L1488.7 293.5 L1490.7 292.8 L1491.4 289.5 L1494.7 285.0 L1501.4 285.0 L1502.7 281.0 L1505.4 281.0 L1506.7 285.0 L1510.8 281.0 L1514.1 285.0 L1515.0 281.0 L1522.5 281.0 L1525.5 289.1 L1528.8 293.5 L1530.8 294.1 L1532.4 297.9 L1534.8 297.9 L1535.9 293.1 L1538.2 293.1 L1540.2 297.9 L1542.2 297.9 L1543.5 293.5 L1546.2 293.5 L1548.5 289.5 L1553.8 289.5 L1558.2 293.5 L1560.2 289.5 L1565.6 289.5 L1569.3 306.2 L1571.2 293.5 L1573.6 297.5 L1575.2 293.5 L1578.3 293.5 L1579.2 289.5 L1583.6 285.0 L1586.3 302.2 L1589.7 322.9 L1593.7 293.5 L1596.4 284.8 L1601.7 273.0 L1605.0 273.0 L1608.4 268.7 L1610.4 268.7 L1613.1 264.0 L1617.1 268.5 L1620.4 264.0 L1623.8 289.1 L1627.1 276.7 L1629.5 276.7 L1633.8 301.5 L1638.9 310.2 L1640.5 302.2 L1647.2 322.9 L1649.8 314.9 L1653.6 318.9 L1659.2 339.6 L1661.6 318.9 L1665.6 310.4 L1667.9 314.9 L1670.6 314.9 L1671.5 322.9 L1674.2 322.9 L1675.5 318.9 L1677.9 318.9 L1681.9 314.9 L1685.3 297.5 L1690.6 302.2 L1694.6 310.2 L1698.0 322.9 L1701.3 322.9 L1706.0 335.6 L1713.4 302.2 L1717.4 289.1 L1720.7 306.2 L1722.1 297.5 L1725.4 302.2 L1727.4 310.2 L1730.1 302.2 L1734.8 302.2 L1736.1 297.5 L1738.8 310.2 L1741.1 293.1 L1746.1 339.6 L1748.8 347.6 L1752.2 373.0 L1756.8 339.6 L1758.2 343.6 L1759.5 322.9 L1761.9 348.3 L1766.9 310.2 L1769.5 302.2 L1770.9 310.2 L1772.9 301.5 L1774.2 306.2 L1774.9 297.5 L1779.6 306.2 L1782.5 301.5" fill="none" stroke="#7cb5ec" stroke-width="2.5" stroke-linejoin="round" stroke-linecap="round"/>
<rect x="1666.2" y="244.2" width="104.5" height="42" rx="11" fill="#fff" stroke="#bdbdbd" stroke-width="1.2"/>
<text x="1718.5" y="267.2" font-size="15.2" fill="#333" text-anchor="middle" font-family="Liberation Sans, Arial, sans-serif" letter-spacing="0.2">Reset zoom</text>
<path d="M499 196.5 H519" stroke="#7cb5ec" stroke-width="2.5"/>
<path d="M838 196.5 H858" stroke="#434348" stroke-width="2.5"/>
<g font-family="Liberation Sans, Arial, sans-serif" font-weight="bold" font-size="15.4" fill="#333">
<text x="525.5" y="202" textLength="284.3" lengthAdjust="spacing">Gear Bearing Temperature (Turbine 12)</text>
<text x="864.5" y="202" textLength="253.5" lengthAdjust="spacing">Ambient Temperature (Turbine 12)</text>
</g>
</svg>
<!-- /CHART -->
<!-- TABLE -->
<div class="a" style="left:49.5px;top:612px;width:1745px;height:621px;border:1px solid #dfe3e6;border-radius:10px;background:#fff;overflow:hidden">
<div class="a" style="left:0;top:0;width:1745px;height:49px;background:#f0f4f7;border-bottom:1px solid #dde1e4"></div>
<div class="a" style="left:0;top:49px;width:1745px;height:121px;background:#f9f9f9;border-bottom:1px solid #dedede"></div>
<div class="a" style="left:0;top:110px;width:1745px;height:1px;background:#e2e2e2"></div>
</div>
<svg class="a" style="left:70px;top:630px" width="19" height="15" viewBox="0 0 19 15" fill="none" stroke="#333" stroke-width="1.7">
 <path d="M0 3.5 H10 M0 8 H11 M0 12.5 H15"/><path d="M16 13 V2 M12.8 5 L16 1.8 L19 5"/></svg>
<div class="a" style="left:110px;top:622px;width:123px;height:30px;border:1px solid #e0e0e0;border-radius:15px;background:#ececec"></div>
<svg class="a" style="left:0;top:0;overflow:visible" width="1" height="1" fill="#666"><circle cx="125.0" cy="635.0" r="1.45"/><circle cx="130.2" cy="635.0" r="1.45"/><circle cx="135.4" cy="635.0" r="1.45"/><circle cx="125.0" cy="640.0" r="1.45"/><circle cx="130.2" cy="640.0" r="1.45"/><circle cx="135.4" cy="640.0" r="1.45"/></svg>
<div class="t" style="left:151px;top:631px;font-size:17.5px;color:#333;letter-spacing:-0.5px">Asset</div>
<svg class="a" style="left:205.5px;top:631.5px" width="13" height="12" viewBox="0 0 13 12" fill="none" stroke="#444" stroke-width="1.6"><path d="M1 0.5 L12 11.5 M12 0.5 L1 11.5"/></svg>
<svg class="a" style="left:249px;top:632px" width="8" height="12" viewBox="0 0 8 12" fill="none" stroke="#333" stroke-width="1.5"><path d="M1 0.5 L6.5 6 L1 11.5"/></svg>
<div class="a" style="left:273px;top:622px;width:158px;height:30px;border:1px solid #e0e0e0;border-radius:15px;background:#ececec"></div>
<svg class="a" style="left:0;top:0;overflow:visible" width="1" height="1" fill="#666"><circle cx="288.5" cy="635.0" r="1.45"/><circle cx="293.7" cy="635.0" r="1.45"/><circle cx="298.9" cy="635.0" r="1.45"/><circle cx="288.5" cy="640.0" r="1.45"/><circle cx="293.7" cy="640.0" r="1.45"/><circle cx="298.9" cy="640.0" r="1.45"/></svg>
<div class="t" style="left:314px;top:631px;font-size:17.5px;color:#333;letter-spacing:-0.45px">Condition</div>
<svg class="a" style="left:403.5px;top:631.5px" width="13" height="12" viewBox="0 0 13 12" fill="none" stroke="#444" stroke-width="1.6"><path d="M1 0.5 L12 11.5 M12 0.5 L1 11.5"/></svg>
<div class="a" style="left:1509.5px;top:616.5px;width:229px;height:41px;border:1px solid #dfe3e6;border-radius:5px;background:#fff"></div>
<div class="t" style="left:1525px;top:628px;font-size:17.5px;color:#9aa5b1;letter-spacing:-0.4px">Filter table...</div>
<svg class="a" style="left:1756px;top:622px" width="28" height="28" viewBox="0 0 28 28" fill="none" stroke="#555" stroke-width="1.9"><circle cx="13.8" cy="13.7" r="11.6"/><path d="M9.8 9.7 L17.8 17.7 M17.8 9.7 L9.8 17.7" stroke-width="2.2"/></svg>
<div class="t" style="left:70px;top:685.5px;font-size:16.3px;font-weight:bold;color:#333;letter-spacing:-0.1px">Asset</div>
<svg class="a" style="left:266px;top:682px" width="6" height="21" fill="#333"><circle cx="3" cy="2.8" r="2.1"/><circle cx="3" cy="10.5" r="2.1"/><circle cx="3" cy="18.2" r="2.1"/></svg>
<div class="a" style="left:297.0px;top:683px;width:3px;height:18px;background:#e0e0e0"></div>
<div class="t" style="left:320px;top:685.5px;font-size:16.3px;font-weight:bold;color:#333;letter-spacing:-0.1px">Condition</div>
<svg class="a" style="left:641px;top:682px" width="6" height="21" fill="#333"><circle cx="3" cy="2.8" r="2.1"/><circle cx="3" cy="10.5" r="2.1"/><circle cx="3" cy="18.2" r="2.1"/></svg>
<div class="a" style="left:672.0px;top:683px;width:3px;height:18px;background:#e0e0e0"></div>
<div class="t" style="left:695px;top:685.5px;font-size:16.3px;font-weight:bold;color:#333;letter-spacing:-0.1px">Start</div>
<svg class="a" style="left:891px;top:682px" width="6" height="21" fill="#333"><circle cx="3" cy="2.8" r="2.1"/><circle cx="3" cy="10.5" r="2.1"/><circle cx="3" cy="18.2" r="2.1"/></svg>
<div class="a" style="left:922.0px;top:683px;width:3px;height:18px;background:#e0e0e0"></div>
<div class="t" style="left:945px;top:685.5px;font-size:16.3px;font-weight:bold;color:#333;letter-spacing:-0.1px">End</div>
<svg class="a" style="left:1141px;top:682px" width="6" height="21" fill="#333"><circle cx="3" cy="2.8" r="2.1"/><circle cx="3" cy="10.5" r="2.1"/><circle cx="3" cy="18.2" r="2.1"/></svg>
<div class="a" style="left:1172.0px;top:683px;width:3px;height:18px;background:#e0e0e0"></div>
<div class="t" style="left:1195px;top:685.5px;font-size:16.3px;font-weight:bold;color:#333;letter-spacing:-0.1px">Duration</div>
<svg class="a" style="left:1391px;top:682px" width="6" height="21" fill="#333"><circle cx="3" cy="2.8" r="2.1"/><circle cx="3" cy="10.5" r="2.1"/><circle cx="3" cy="18.2" r="2.1"/></svg>
<div class="a" style="left:1422.0px;top:683px;width:3px;height:18px;background:#e0e0e0"></div>
<div class="t" style="left:1445px;top:685.5px;font-size:16.3px;font-weight:bold;color:#333;letter-spacing:-0.1px">Path</div>
<svg class="a" style="left:1641px;top:682px" width="6" height="21" fill="#333"><circle cx="3" cy="2.8" r="2.1"/><circle cx="3" cy="10.5" r="2.1"/><circle cx="3" cy="18.2" r="2.1"/></svg>
<div class="a" style="left:1672.0px;top:683px;width:3px;height:18px;background:#e0e0e0"></div>
<div class="t" style="left:1695px;top:685.5px;font-size:16.3px;font-weight:bold;color:#333;letter-spacing:-0.1px">Flagged</div>
<svg class="a" style="left:1778px;top:682px" width="6" height="21" fill="#333"><circle cx="3" cy="2.8" r="2.1"/><circle cx="3" cy="10.5" r="2.1"/><circle cx="3" cy="18.2" r="2.1"/></svg>
<div class="a" style="left:70px;top:733px;width:174px;height:39.5px;border:1px solid #dcdcdc;border-radius:4px;background:#fff"></div>
<svg class="a" style="left:260.5px;top:745.5px" width="17" height="13" viewBox="0 0 17 13" fill="none" stroke="#333" stroke-width="1.6"><path d="M0 1.5 H17 M3.2 6.5 H13.8 M6.3 11.5 H10.7"/></svg>
<div class="a" style="left:320px;top:733px;width:299.5px;height:39.5px;border:1px solid #dcdcdc;border-radius:4px;background:#fff"></div>
<svg class="a" style="left:635.5px;top:745.5px" width="17" height="13" viewBox="0 0 17 13" fill="none" stroke="#333" stroke-width="1.6"><path d="M0 1.5 H17 M3.2 6.5 H13.8 M6.3 11.5 H10.7"/></svg>
<div class="a" style="left:695px;top:733px;width:174.5px;height:39.5px;border:1px solid #dcdcdc;border-radius:4px;background:#f3f3f3"></div>
<svg class="a" style="left:885.5px;top:745.5px" width="17" height="13" viewBox="0 0 17 13" fill="none" stroke="#333" stroke-width="1.6"><path d="M0 1.5 H17 M3.2 6.5 H13.8 M6.3 11.5 H10.7"/></svg>
<div class="a" style="left:945px;top:733px;width:174.5px;height:39.5px;border:1px solid #dcdcdc;border-radius:4px;background:#f3f3f3"></div>
<svg class="a" style="left:1135.5px;top:745.5px" width="17" height="13" viewBox="0 0 17 13" fill="none" stroke="#333" stroke-width="1.6"><path d="M0 1.5 H17 M3.2 6.5 H13.8 M6.3 11.5 H10.7"/></svg>
<div class="a" style="left:1195px;top:733px;width:174.5px;height:39.5px;border:1px solid #dcdcdc;border-radius:4px;background:#f3f3f3"></div>
<svg class="a" style="left:1385.5px;top:745.5px" width="17" height="13" viewBox="0 0 17 13" fill="none" stroke="#333" stroke-width="1.6"><path d="M0 1.5 H17 M3.2 6.5 H13.8 M6.3 11.5 H10.7"/></svg>
<div class="a" style="left:1445px;top:733px;width:174.5px;height:39.5px;border:1px solid #dcdcdc;border-radius:4px;background:#fff"></div>
<svg class="a" style="left:1635.5px;top:745.5px" width="17" height="13" viewBox="0 0 17 13" fill="none" stroke="#333" stroke-width="1.6"><path d="M0 1.5 H17 M3.2 6.5 H13.8 M6.3 11.5 H10.7"/></svg>
<div class="a" style="left:1695px;top:733px;width:61px;height:39.5px;border:1px solid #dcdcdc;border-radius:4px;background:#f3f3f3"></div>
<svg class="a" style="left:1772.5px;top:745.5px" width="17" height="13" viewBox="0 0 17 13" fill="none" stroke="#333" stroke-width="1.6"><path d="M0 1.5 H17 M3.2 6.5 H13.8 M6.3 11.5 H10.7"/></svg>
<svg class="a" style="left:72px;top:801.0px" width="15" height="9" viewBox="0 0 15 9" fill="none" stroke="#333" stroke-width="1.6"><path d="M1.5 1.5 L7.5 7.5 L13.5 1.5"/></svg>
<div class="t" style="left:104px;top:800.3px;font-size:16.8px;color:#383838">Turbine 12 (40)</div>
<div class="t" style="left:695px;top:800.3px;font-size:16.8px;color:#383838">Oct 26, 2024, 8:00 PM</div>
<div class="t" style="left:945px;top:800.3px;font-size:16.8px;color:#383838">Jan 25, 2025, 1:00 AM</div>
<div class="t" style="left:1195px;top:800.3px;font-size:16.8px;color:#383838">90 days 00:44:10</div>
<div class="t" style="left:1445px;top:800.3px;font-size:16.8px;color:#383838;letter-spacing:0.3px">*multiple values*</div>
<div class="a" style="left:50.5px;top:825.8px;width:1732px;height:1px;background:#ebebeb"></div>
<svg class="a" style="left:325px;top:842.3px" width="9" height="15" viewBox="0 0 9 15" fill="none" stroke="#333" stroke-width="1.6"><path d="M1.5 1.5 L7.5 7.5 L1.5 13.5"/></svg>
<div class="t" style="left:354px;top:844.1px;font-size:16.8px;color:#383838">ML Model Anomaly (1)</div>
<div class="t" style="left:695px;top:844.1px;font-size:16.8px;color:#383838">Oct 26, 2024, 8:00 PM</div>
<div class="t" style="left:945px;top:844.1px;font-size:16.8px;color:#383838">Jan 17, 2025, 7:00 PM</div>
<div class="t" style="left:1195px;top:844.1px;font-size:16.8px;color:#383838">83 days 00:00:00</div>
<div class="t" style="left:1445px;top:844.1px;font-size:16.8px;color:#383838;letter-spacing:0.3px">Turbines &gt;&gt; Turbine 12 ...</div>
<div class="a" style="left:50.5px;top:870.1px;width:1732px;height:43.8px;background:#edf4fc"></div>
<div class="a" style="left:50.5px;top:869.6px;width:1732px;height:1px;background:#ebebeb"></div>
<svg class="a" style="left:325px;top:886.1px" width="9" height="15" viewBox="0 0 9 15" fill="none" stroke="#333" stroke-width="1.6"><path d="M1.5 1.5 L7.5 7.5 L1.5 13.5"/></svg>
<div class="t" style="left:354px;top:887.9px;font-size:16.8px;color:#383838">High Gear Bearing Temperature (39)</div>
<div class="t" style="left:695px;top:887.9px;font-size:16.8px;color:#383838">Dec 8, 2024, 6:05 PM</div>
<div class="t" style="left:945px;top:887.9px;font-size:16.8px;color:#383838">Jan 25, 2025, 1:00 AM</div>
<div class="t" style="left:1195px;top:887.9px;font-size:16.8px;color:#383838">7 days 00:44:10</div>
<div class="t" style="left:1445px;top:887.9px;font-size:16.8px;color:#383838;letter-spacing:0.3px">Turbines &gt;&gt; Turbine 12 ...</div>
<div class="a" style="left:50.5px;top:913.4px;width:1732px;height:1px;background:#ebebeb"></div>
<svg class="a" style="left:75px;top:929.9px" width="9" height="15" viewBox="0 0 9 15" fill="none" stroke="#333" stroke-width="1.6"><path d="M1.5 1.5 L7.5 7.5 L1.5 13.5"/></svg>
<div class="t" style="left:104px;top:931.7px;font-size:16.8px;color:#383838">Turbine 02 (2)</div>
<div class="t" style="left:695px;top:931.7px;font-size:16.8px;color:#383838">Dec 15, 2024, 6:45 AM</div>
<div class="t" style="left:945px;top:931.7px;font-size:16.8px;color:#383838">Dec 16, 2024, 3:20 AM</div>
<div class="t" style="left:1195px;top:931.7px;font-size:16.8px;color:#383838">02:35:00</div>
<div class="t" style="left:1445px;top:931.7px;font-size:16.8px;color:#383838;letter-spacing:0.3px">Turbines &gt;&gt; Turbine 02 ...</div>
<div class="a" style="left:50.5px;top:957.2px;width:1732px;height:1px;background:#ebebeb"></div>
<svg class="a" style="left:72px;top:976.2px" width="15" height="9" viewBox="0 0 15 9" fill="none" stroke="#333" stroke-width="1.6"><path d="M1.5 1.5 L7.5 7.5 L13.5 1.5"/></svg>
<div class="t" style="left:104px;top:975.5px;font-size:16.8px;color:#383838">Turbine 10 (21)</div>
<div class="t" style="left:695px;top:975.5px;font-size:16.8px;color:#383838">Dec 15, 2024, 2:40 AM</div>
<div class="t" style="left:945px;top:975.5px;font-size:16.8px;color:#383838">Jan 10, 2025, 12:10 AM</div>
<div class="t" style="left:1195px;top:975.5px;font-size:16.8px;color:#383838">10 days 11:40:57</div>
<div class="t" style="left:1445px;top:975.5px;font-size:16.8px;color:#383838;letter-spacing:0.3px">*multiple values*</div>
<div class="a" style="left:50.5px;top:1001.0px;width:1732px;height:1px;background:#ebebeb"></div>
<svg class="a" style="left:325px;top:1017.5px" width="9" height="15" viewBox="0 0 9 15" fill="none" stroke="#333" stroke-width="1.6"><path d="M1.5 1.5 L7.5 7.5 L1.5 13.5"/></svg>
<div class="t" style="left:354px;top:1019.3px;font-size:16.8px;color:#383838">High Gear Bearing Temperature (20)</div>
<div class="t" style="left:695px;top:1019.3px;font-size:16.8px;color:#383838">Dec 15, 2024, 2:40 AM</div>
<div class="t" style="left:945px;top:1019.3px;font-size:16.8px;color:#383838">Jan 10, 2025, 12:10 AM</div>
<div class="t" style="left:1195px;top:1019.3px;font-size:16.8px;color:#383838">2 days 14:48:20</div>
<div class="t" style="left:1445px;top:1019.3px;font-size:16.8px;color:#383838;letter-spacing:0.3px">Turbines &gt;&gt; Turbine 10 ...</div>
<div class="a" style="left:50.5px;top:1044.8px;width:1732px;height:1px;background:#ebebeb"></div>
<svg class="a" style="left:325px;top:1061.3px" width="9" height="15" viewBox="0 0 9 15" fill="none" stroke="#333" stroke-width="1.6"><path d="M1.5 1.5 L7.5 7.5 L1.5 13.5"/></svg>
<div class="t" style="left:354px;top:1063.1px;font-size:16.8px;color:#383838">ML Model Anomaly (1)</div>
<div class="t" style="left:695px;top:1063.1px;font-size:16.8px;color:#383838">Jan 29, 2025, 7:00 PM</div>
<div class="t" style="left:1195px;top:1063.1px;font-size:16.8px;color:#383838">7 days 20:52:42</div>
<div class="t" style="left:1445px;top:1063.1px;font-size:16.8px;color:#383838;letter-spacing:0.3px">Turbines &gt;&gt; Turbine 10 ...</div>
<div class="a" style="left:50.5px;top:1088.6px;width:1732px;height:1px;background:#ebebeb"></div>
<svg class="a" style="left:75px;top:1105.1px" width="9" height="15" viewBox="0 0 9 15" fill="none" stroke="#333" stroke-width="1.6"><path d="M1.5 1.5 L7.5 7.5 L1.5 13.5"/></svg>
<div class="t" style="left:104px;top:1106.9px;font-size:16.8px;color:#383838">Turbine 05 (4)</div>
<div class="t" style="left:695px;top:1106.9px;font-size:16.8px;color:#383838">Dec 15, 2024, 3:40 AM</div>
<div class="t" style="left:945px;top:1106.9px;font-size:16.8px;color:#383838">Jan 8, 2025, 12:40 AM</div>
<div class="t" style="left:1195px;top:1106.9px;font-size:16.8px;color:#383838">09:58:20</div>
<div class="t" style="left:1445px;top:1106.9px;font-size:16.8px;color:#383838;letter-spacing:0.3px">Turbines &gt;&gt; Turbine 05 ...</div>
<div class="a" style="left:50.5px;top:1132.4px;width:1732px;height:1px;background:#ebebeb"></div>
<svg class="a" style="left:75px;top:1148.9px" width="9" height="15" viewBox="0 0 9 15" fill="none" stroke="#333" stroke-width="1.6"><path d="M1.5 1.5 L7.5 7.5 L1.5 13.5"/></svg>
<div class="t" style="left:104px;top:1150.7px;font-size:16.8px;color:#383838">Turbine 04 (19)</div>
<div class="t" style="left:695px;top:1150.7px;font-size:16.8px;color:#383838">Oct 27, 2024, 7:24 AM</div>
<div class="t" style="left:945px;top:1150.7px;font-size:16.8px;color:#383838">Jan 15, 2025, 6:10 AM</div>
<div class="t" style="left:1195px;top:1150.7px;font-size:16.8px;color:#383838">92 days 08:07:50</div>
<div class="t" style="left:1445px;top:1150.7px;font-size:16.8px;color:#383838;letter-spacing:0.3px">*multiple values*</div>
<div class="a" style="left:50.5px;top:1176.2px;width:1732px;height:1px;background:#ebebeb"></div>
<svg class="a" style="left:75px;top:1192.7px" width="9" height="15" viewBox="0 0 9 15" fill="none" stroke="#333" stroke-width="1.6"><path d="M1.5 1.5 L7.5 7.5 L1.5 13.5"/></svg>
<div class="t" style="left:104px;top:1194.5px;font-size:16.8px;color:#383838">Turbine 09 (11)</div>
<div class="t" style="left:695px;top:1194.5px;font-size:16.8px;color:#383838">Dec 8, 2024, 7:00 PM</div>
<div class="t" style="left:945px;top:1194.5px;font-size:16.8px;color:#383838">Jan 15, 2025, 6:10 AM</div>
<div class="t" style="left:1195px;top:1194.5px;font-size:16.8px;color:#383838">19 days 12:33:40</div>
<div class="t" style="left:1445px;top:1194.5px;font-size:16.8px;color:#383838;letter-spacing:0.3px">*multiple values*</div>
<div class="a" style="left:50.5px;top:1220.0px;width:1732px;height:1px;background:#ebebeb"></div>
<div class="a" style="left:300.5px;top:869.8px;width:374.5px;height:44.2px;border:1.3px solid #555"></div>
<div class="a" style="left:1783.3px;top:783px;width:10.6px;height:437.5px;background:#e3e3e3;border-radius:5.3px"></div>
<div class="a" style="left:1783.3px;top:783px;width:10.6px;height:273.5px;background:#b3b3b3;border-radius:5.3px"></div>
<div class="a" style="left:50.5px;top:1221.8px;width:1732.5px;height:10.5px;background:#e3e3e3;border-radius:5.3px"></div>
<div class="a" style="left:50.5px;top:1221.8px;width:743px;height:10.5px;background:#b3b3b3;border-radius:5.3px"></div>
<!-- /TABLE -->
<!-- CTX -->
<svg class="a" style="left:2532px;top:63px" width="21" height="21" viewBox="0 0 21 21" fill="none" stroke="#7649a9" stroke-width="1.9" stroke-linecap="square">
 <path d="M12 9 L19 2 M13.5 2 H19 V7.5"/><path d="M9 12 L2 19 M2 13.5 V19 H7.5"/></svg>
<div class="a" style="left:1811px;top:98px;width:742px;height:59px;background:#fff;border-radius:0 0 8px 8px;border-bottom:2px solid #e2e4e6"></div>
<div class="t" style="left:1836px;top:119.5px;font-size:16px;font-weight:bold;color:#222;letter-spacing:-0.5px">Currently selected: 1 Condition</div>
<svg class="a" style="left:2526px;top:115px" width="6" height="21" fill="#7649a9"><circle cx="3" cy="3" r="2.4"/><circle cx="3" cy="10.5" r="2.4"/><circle cx="3" cy="18" r="2.4"/></svg>
<svg class="a" style="left:1822px;top:164px" width="14" height="10" viewBox="0 0 14 10" fill="none" stroke="#7649a9" stroke-width="1.6"><path d="M1 1.5 L7 8 L13 1.5"/></svg>
<div class="t" style="left:1861px;top:161px;font-size:15.5px;color:#444">History</div>
<div class="t" style="left:1826px;top:204px;font-size:15px;color:#6c757d">Search context</div>
<svg class="a" style="left:2495px;top:202px" width="21" height="20" viewBox="0 0 21 20" fill="none" stroke="#555" stroke-width="1.8"><circle cx="8.5" cy="8.3" r="7.2"/><path d="M13.8 13.5 L20 19.5"/></svg>
<svg class="a" style="left:2529px;top:204px" width="17" height="15" viewBox="0 0 17 15" fill="none" stroke="#7649a9" stroke-width="1.6" stroke-linejoin="round"><path d="M1 1 H16 L10 7.5 V14 L7 11.5 V7.5 Z"/></svg>
<div class="a" style="left:1816.3px;top:247.4px;width:732.5px;height:102px;background:#e3e3e3;border-radius:5px"></div>
<div class="t" style="left:1826px;top:255px;font-size:12px;font-style:italic;color:#333;letter-spacing:-0.5px">1/13/2025, 9:18 PM</div>
<div class="t" style="left:1826px;top:272.5px;font-size:13.6px;color:#333;letter-spacing:-0.5px">Daniel Foster-Roman</div>
<div class="t" style="left:2139px;top:263px;font-size:18.3px;font-weight:bold;color:#a35fe3">Condition</div>
<svg class="a" style="left:2444px;top:260px" width="20" height="18" viewBox="0 0 20 18" fill="none" stroke="#333" stroke-width="3.2"><path d="M2 8.8 L7.3 15.6 L17.8 1.3"/></svg>
<svg class="a" style="left:2478px;top:259.5px" width="20" height="19" viewBox="0 0 20 19"><path d="M1.05 0.6 H9.2 L15.7 8.3 L8.6 18.2 L1.05 10.3 Z" fill="#333"/><circle cx="4.6" cy="4.7" r="1.25" fill="#e3e3e3"/><path d="M13 1.3 L17.8 7.2 V12.2 L13 17.6" fill="none" stroke="#333" stroke-width="2.4"/></svg>
<svg class="a" style="left:2512px;top:259.5px" width="20" height="19" viewBox="0 0 20 19"><path d="M1.05 0.6 H9.2 L15.7 8.3 L8.6 18.2 L1.05 10.3 Z" fill="#333"/><circle cx="4.6" cy="4.7" r="1.25" fill="#e3e3e3"/><path d="M13 1.3 L17.8 7.2 V12.2 L13 17.6" fill="none" stroke="#333" stroke-width="2.4"/></svg>
<div class="t" style="left:1826px;top:295px;font-size:17px;color:#333;letter-spacing:-0.25px;line-height:24.6px">Gear Bearing temperature is consistently well above ambient temperature delta. Review threshold<br>against historical data and other turbines. Consider increasing threshold on this turbine.</div>
<div class="a" style="left:1816.3px;top:360.2px;width:732.5px;height:94.2px;background:#e3e3e3;border-radius:5px"></div>
<div class="t" style="left:1826px;top:368px;font-size:12px;font-style:italic;color:#333;letter-spacing:-0.5px">1/17/2025, 1:43 PM</div>
<div class="t" style="left:1826px;top:384.5px;font-size:13.6px;color:#333;letter-spacing:-0.5px">Daniel Foster-Roman</div>
<div class="t" style="left:2147.5px;top:375px;font-size:18.3px;font-weight:bold;color:#a35fe3">Capsule</div>
<svg class="a" style="left:2512px;top:372.5px" width="20" height="19" viewBox="0 0 20 19" fill="#c54e4e"><rect x="0" y="0" width="2.6" height="18.5"/><path d="M2.6 1.5 Q6 0 9.5 1.8 Q13.5 3.5 19 1.8 V12 Q13.5 13.7 9.5 12 Q6 10.3 2.6 11.8 Z"/></svg>
<div class="t" style="left:1999.5px;top:405.5px;font-size:11.5px;font-style:italic;color:#333;letter-spacing:-0.35px">Jan 10, 2025, 7:10 PM (US/Eastern) → Jan 10, 2025, 10:15 PM (US/Eastern)</div>
<div class="t" style="left:1826px;top:428px;font-size:17px;color:#333;letter-spacing:-0.3px">Flag for review</div>
<svg class="a" style="left:1836px;top:1046.5px" width="15" height="13" viewBox="0 0 15 13" fill="#333"><rect x="0" y="0" width="2.2" height="13"/><path d="M2.2 1 Q5 0 7.5 1.3 Q10.5 2.5 14.5 1.3 V8.5 Q10.5 9.7 7.5 8.5 Q5 7.3 2.2 8.4 Z"/></svg>
<div class="t" style="left:1834.5px;top:1067.3px;font-size:12.5px;color:#333;letter-spacing:-0.3px">Flag</div>
<svg class="a" style="left:1893px;top:1047.5px" width="15" height="12" viewBox="0 0 15 12" fill="none" stroke="#333" stroke-width="2.3"><path d="M1 6 L5.5 10.5 L14 1"/></svg>
<div class="t" style="left:1883.5px;top:1067.3px;font-size:12.5px;color:#333;letter-spacing:-0.3px">Review</div>
<div class="a" style="left:1937px;top:1040px;width:50.6px;height:49px;border:1.5px solid #7649a9;border-radius:4px"></div>
<svg class="a" style="left:1953px;top:1046px" width="14.5" height="14" viewBox="0 0 20 19"><path d="M1.05 0.6 H9.2 L15.7 8.3 L8.6 18.2 L1.05 10.3 Z" fill="#333"/><circle cx="4.6" cy="4.7" r="1.4" fill="#fff"/><path d="M13 1.3 L17.8 7.2 V12.2 L13 17.6" fill="none" stroke="#333" stroke-width="2.4"/></svg>
<div class="t" style="left:1948.5px;top:1067.3px;font-size:12.5px;color:#333;letter-spacing:-0.3px">Label</div>
<svg class="a" style="left:2019.5px;top:1046.5px" width="14" height="14" viewBox="0 0 14 14" fill="#333"><rect x="0.5" y="0" width="13" height="2"/><rect x="0.5" y="12" width="13" height="2"/><path d="M2 2 H12 Q12 5.5 8 7 Q12 8.5 12 12 H2 Q2 8.5 6 7 Q2 5.5 2 2 Z M4 3.6 Q4.6 5.3 7 6 Q9.4 5.3 10 3.6 Z" fill-rule="evenodd"/></svg>
<div class="t" style="left:2004px;top:1067.3px;font-size:12.5px;color:#333;letter-spacing:-0.3px">Suppress</div>
<div class="a" style="left:1811px;top:1031px;width:742px;height:62px;border-radius:0 0 8px 8px;border-bottom:2px solid #e2e4e6"></div>
<div class="a" style="left:1811.3px;top:1099.6px;width:742.3px;height:89.6px;border:1px solid #d5dbe0;border-radius:4px;background:#fff"></div>
<div class="t" style="left:1827px;top:1109px;font-size:17px;color:#a3acb6;letter-spacing:-0.35px">Enter a note by typing here...</div>
<svg class="a" style="left:2542px;top:1178px" width="9" height="9" viewBox="0 0 9 9" stroke="#888" stroke-width="0.9"><path d="M0 9 L9 0 M4 9 L9 4"/></svg>
<div class="a" style="left:2429px;top:1196px;width:124.6px;height:36.3px;background:#b9a2d5;border-radius:4px"></div>
<div class="t" style="left:2464.5px;top:1205.5px;font-size:16px;font-weight:bold;color:#fff">Submit</div>
<div class="a" style="left:0;top:1240px;width:113px;height:31px;background:#03a9f4"></div>
<svg class="a" style="left:12px;top:1247.5px" width="17" height="14" viewBox="0 0 17 14" fill="none" stroke="#fff" stroke-width="1.6"><path d="M8.5 1 C4 1 1 3.3 1 6.2 C1 7.8 1.9 9.1 3.3 10 L2.3 13 L6 11.2 C6.8 11.4 7.6 11.5 8.5 11.5 C13 11.5 16 9.1 16 6.2 C16 3.3 13 1 8.5 1 Z"/><circle cx="5.2" cy="6.3" r="1" fill="#fff" stroke="none"/><circle cx="8.5" cy="6.3" r="1" fill="#fff" stroke="none"/><circle cx="11.8" cy="6.3" r="1" fill="#fff" stroke="none"/></svg>
<div class="t" style="left:35px;top:1247px;font-size:15.5px;color:#fff;letter-spacing:-0.4px">Feedback</div>
<div class="t" style="left:125.5px;top:1249px;font-size:14.5px;color:#7649a9">2025-02-06-02-17-00.v0</div>
<div class="t" style="left:2315.5px;top:1247.5px;font-size:15px;color:#7649a9;letter-spacing:-0.4px">Datasources</div>
<div class="a" style="left:2405.5px;top:1247px;width:1.2px;height:17px;background:#7649a9"></div>
<div class="t" style="left:2415.5px;top:1247.5px;font-size:15px;color:#7649a9;letter-spacing:-0.45px">Thread Pool Usage</div>
<!-- /CTX -->
<!-- tabs -->
<div class="a tab" style="left:47px;top:57px;width:100px;height:36px"></div>
<div class="t" style="left:58px;top:64.5px;font-size:19.4px;color:#2a2a2a">Evidence</div>
<div class="a tab" style="left:1810px;top:57px;width:89px;height:36px"></div>
<div class="t" style="left:1820px;top:64px;font-size:19.8px;color:#2a2a2a">Context</div>
<div class="t" style="left:10px;top:140px;font-size:20px;color:#8b9096;transform:rotate(-90deg);transform-origin:0 0">Settings</div>
</body></html>
